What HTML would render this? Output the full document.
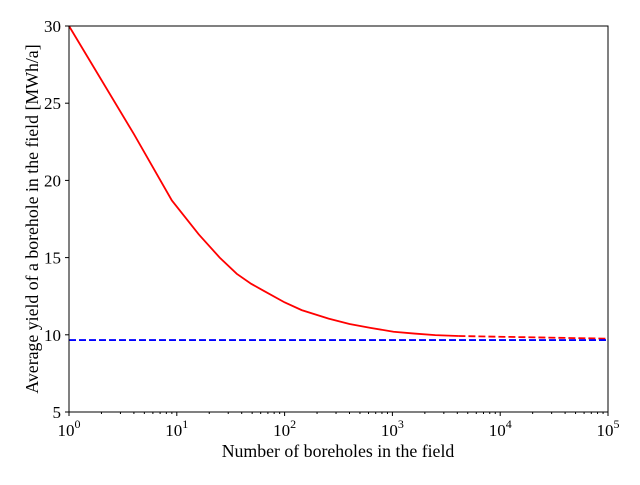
<!DOCTYPE html>
<html><head><meta charset="utf-8"><style>
body{margin:0;background:#fff}
svg text{font-family:"Liberation Serif","DejaVu Serif",serif;fill:#000}
</style></head><body>
<svg id="chart" width="640" height="480" xmlns="http://www.w3.org/2000/svg"></svg>
<script>
const boreholes=[1,4,9,16,25,36,49,64,100,144,256,400,625,1024,1600,2500,4096];
const yieldVals=[30,23.0,18.7,16.5,15.0,13.95,13.3,12.85,12.1,11.6,11.05,10.7,10.45,10.2,10.08,9.98,9.92];
const extrapN=[4096,100000];
const extrapVals=[9.92,9.75];
const asymptote=9.66;
const yTicks=[5,10,15,20,25,30];
const xTickExp=[0,1,2,3,4,5];

const L=69,R=608,T=26,B=412;
const xs=n=>L+(Math.log10(n)-0)/5*(R-L);
const ys=v=>B-(v-5)/25*(B-T);
const svg=document.getElementById('chart');
const NS='http://www.w3.org/2000/svg';
function mk(tag,attrs,parent){const e=document.createElementNS(NS,tag);for(const k in attrs)e.setAttribute(k,attrs[k]);(parent||svg).appendChild(e);return e;}

const p1=mk('polyline',{points:boreholes.map((n,i)=>xs(n)+','+ys(yieldVals[i])).join(' '),fill:'none',stroke:'#ff0000','stroke-width':1.8});


const p2=mk('polyline',{points:extrapN.map((n,i)=>xs(n)+','+ys(extrapVals[i])).join(' '),fill:'none',stroke:'#ff0000','stroke-width':1.8,'stroke-dasharray':'7,3'});


const p3=mk('line',{x1:L,x2:R,y1:ys(asymptote),y2:ys(asymptote),stroke:'#0000ff','stroke-width':1.8,'stroke-dasharray':'7,3'});



const fr=mk('rect',{x:L,y:T,width:R-L,height:B-T,fill:'none',stroke:'#000','stroke-width':1});



yTicks.forEach(v=>{
  const y=ys(v);
  mk('line',{x1:L-4,x2:L,y1:y,y2:y,stroke:'#000'});
  const t=mk('text',{x:L-8,y:y+6,'text-anchor':'end','font-size':17});
  t.textContent=v;
  
  
});
xTickExp.forEach(e=>{
  const x=xs(Math.pow(10,e));
  mk('line',{x1:x,x2:x,y1:B,y2:B+4,stroke:'#000'});
  const t=mk('text',{x:x,y:B+24,'text-anchor':'middle','font-size':17});
  t.innerHTML='10<tspan dy="-8" font-size="12">'+e+'</tspan>';
  
  
  if(e<5){for(let k=2;k<10;k++){const xm=xs(k*Math.pow(10,e));mk('line',{x1:xm,x2:xm,y1:B,y2:B+2,stroke:'#000'});}}
});
const xt=mk('text',{x:338,y:457,'text-anchor':'middle','font-size':17.8});
xt.textContent='Number of boreholes in the field';


const yt=mk('text',{x:0,y:0,'text-anchor':'middle','font-size':17.8,transform:'translate(38,'+((T+B)/2)+') rotate(-90)'});
yt.textContent='Average yield of a borehole in the field [MWh/a]';


</script>
</body></html>
